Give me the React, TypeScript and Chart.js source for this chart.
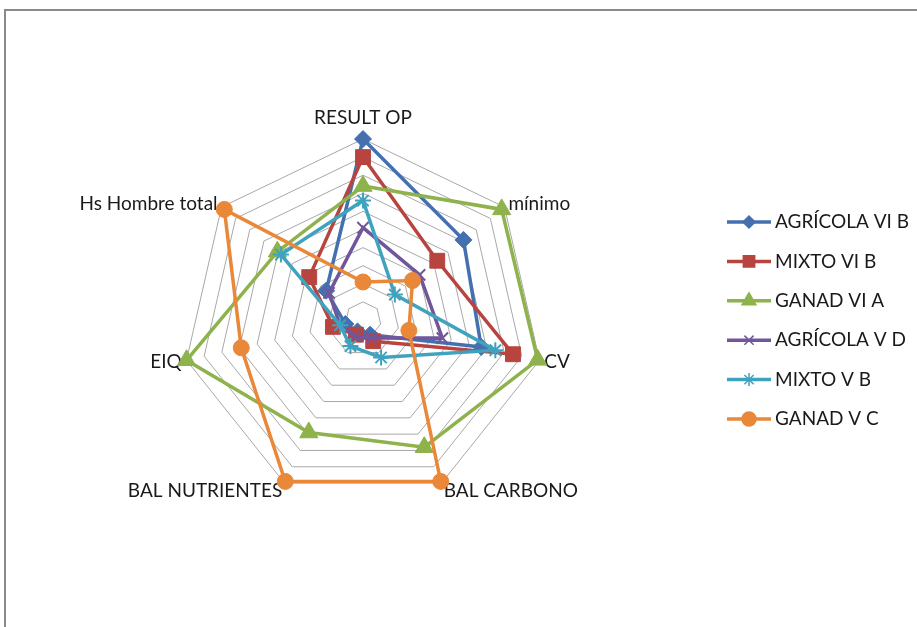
import React, { useEffect, useRef } from 'react';
import { Chart, registerables } from 'chart.js';
import { drawPoint } from 'chart.js/helpers';

Chart.register(...registerables);

const categories = ['RESULT OP', 'mínimo', 'CV', 'BAL CARBONO', 'BAL NUTRIENTES', 'EIQ', 'Hs Hombre total'];

const seriesNames = ['AGRÍCOLA VI B', 'MIXTO VI B', 'GANAD VI A', 'AGRÍCOLA V D', 'MIXTO V B', 'GANAD V C'];

const agricolaVIB = [10, 7.1, 6.7, 0.9, 0.7, 1.0, 2.6];
const mixtoVIB = [9.0, 5.25, 8.5, 1.3, 0.9, 1.7, 3.8];
const ganadVIA = [7.4, 9.8, 9.9, 7.8, 6.9, 10, 6.05];
const agricolaVD = [5.1, 4.0, 4.5, 1.1, 1.0, 1.3, 2.4];
const mixtoVB = [6.6, 2.25, 7.5, 2.3, 1.6, 1.3, 5.8];
const ganadVC = [2.1, 3.5, 2.6, 9.9, 9.9, 6.9, 9.8];

const seriesValues = [agricolaVIB, mixtoVIB, ganadVIA, agricolaVD, mixtoVB, ganadVC];

const colors = ['#4470B0', '#B8443F', '#8EB24C', '#71569B', '#3FA3BF', '#E98838'];
const pointStyles = ['rectRot', 'rect', 'triangle', 'crossRot', 'star', 'circle'];
const pointRadii = [8.5, 10.5, 10.5, 8, 8, 8];
const legendRadii = [6, 8, 8, 6.5, 6.5, 7];

const FONT = '19px Lato, "Open Sans", sans-serif';

const labelsPlugin = {
  id: 'excelLabels',
  beforeDatasetsDraw(chart: any) {
    const scale = chart.scales.r;
    const ctx = chart.ctx;
    const R = scale.drawingArea;
    ctx.save();
    ctx.font = FONT;
    ctx.fillStyle = '#1a1a1a';
    ctx.textBaseline = 'middle';
    categories.forEach((label, i) => {
      const pos = scale.getPointPosition(i, R + 5);
      const dx = pos.x - scale.xCenter;
      let align: CanvasTextAlign = 'center';
      if (dx > 1) align = 'left';
      else if (dx < -1) align = 'right';
      let dy = 0;
      if (i === 0) dy = -16;
      else if (pos.y > scale.yCenter + R * 0.5) dy = 3;
      ctx.textAlign = align;
      ctx.fillText(label, pos.x, pos.y + dy);
    });
    ctx.restore();
  },
  afterDraw(chart: any) {
    const ctx = chart.ctx;
    ctx.save();
    seriesNames.forEach((name, i) => {
      const y = 222 + i * 39.4;
      ctx.strokeStyle = colors[i];
      ctx.lineWidth = 3.5;
      ctx.beginPath();
      ctx.moveTo(727, y);
      ctx.lineTo(771, y);
      ctx.stroke();
      ctx.fillStyle = colors[i];
      ctx.strokeStyle = colors[i];
      ctx.lineWidth = 1.5;
      drawPoint(ctx, { pointStyle: pointStyles[i] as any, radius: legendRadii[i], rotation: 0, borderWidth: 1.5 } as any, 749, y);
      ctx.font = FONT;
      ctx.fillStyle = '#1a1a1a';
      ctx.textAlign = 'left';
      ctx.textBaseline = 'middle';
      ctx.fillText(name, 775, y);
    });
    ctx.restore();
  },
};

export default function App() {
  const canvasRef = useRef<HTMLCanvasElement | null>(null);

  useEffect(() => {
    if (!canvasRef.current) return;
    const chart = new Chart(canvasRef.current, {
      type: 'radar',
      data: {
        labels: categories,
        datasets: seriesNames.map((name, i) => ({
          label: name,
          data: seriesValues[i],
          borderColor: colors[i],
          backgroundColor: colors[i],
          pointBackgroundColor: colors[i],
          pointBorderColor: colors[i],
          borderWidth: 3.5,
          pointBorderWidth: i === 3 || i === 4 ? 2 : 1,
          pointStyle: pointStyles[i] as any,
          pointRadius: pointRadii[i],
          fill: false,
          tension: 0,
          order: seriesNames.length - i,
        })),
      },
      options: {
        responsive: false,
        maintainAspectRatio: false,
        animation: false,
        devicePixelRatio: 1,
        layout: { padding: { left: 182, top: 139, right: 373, bottom: 126 } },
        plugins: {
          legend: { display: false },
          tooltip: { enabled: false },
          title: { display: false },
        },
        scales: {
          r: {
            min: 0,
            max: 10,
            ticks: { display: false, stepSize: 1 },
            grid: { color: '#a8a8a8', lineWidth: 1 },
            angleLines: { display: false },
            pointLabels: { display: false },
          },
        },
      },
      plugins: [labelsPlugin],
    });
    return () => chart.destroy();
  }, []);

  return (
    <div style={{ position: 'fixed', left: 0, top: 0, width: 917, height: 627, overflow: 'hidden', background: '#fff' }}>
      <div style={{ position: 'absolute', left: 4, top: 9, width: 1000, height: 1000, border: '2px solid #8a8a8a' }} />
      <canvas ref={canvasRef} width={917} height={627} style={{ position: 'absolute', left: 0, top: 0, width: 917, height: 627 }} />
    </div>
  );
}
